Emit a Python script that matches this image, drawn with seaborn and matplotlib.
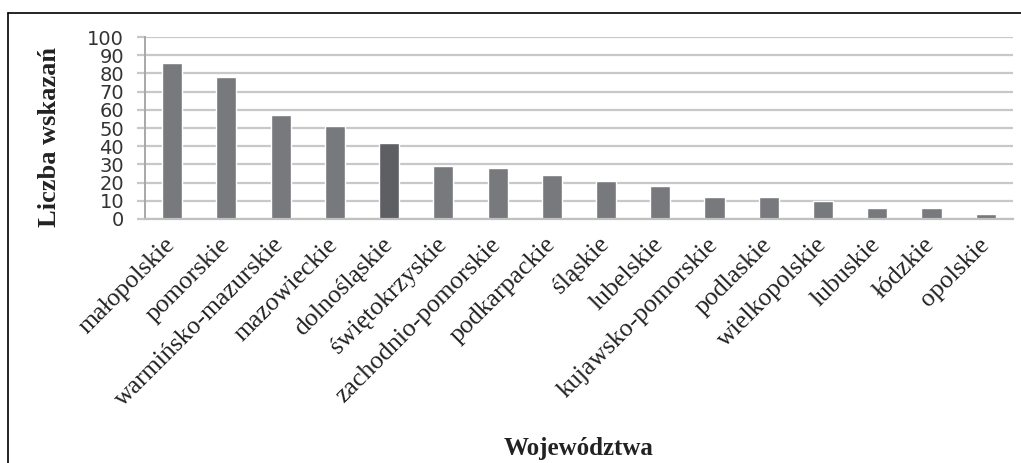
import numpy as np
import pandas as pd
import matplotlib
matplotlib.use('Agg')
import matplotlib.pyplot as plt
import seaborn as sns
from matplotlib.lines import Line2D

# --- data ---
regions = ['małopolskie', 'pomorskie', 'warmińsko-mazurskie', 'mazowieckie',
           'dolnośląskie', 'świętokrzyskie', 'zachodnio-pomorskie', 'podkarpackie',
           'śląskie', 'lubelskie', 'kujawsko-pomorskie', 'podlaskie',
           'wielkopolskie', 'lubuskie', 'łódzkie', 'opolskie']
counts = [86, 78, 57, 51, 42, 29, 28, 24, 21, 18, 12, 12, 10, 6, 6, 3]
y_ticks = list(range(0, 101, 10))

bar_color = '#78797d'
dark_color = '#5e5f63'
colors = [dark_color if r == 'dolnośląskie' else bar_color for r in regions]

df = pd.DataFrame({'region': regions, 'count': counts})

sns.set_style('white')
plt.rcParams['font.family'] = ['DejaVu Sans']

fig = plt.figure(figsize=(10.21, 4.63), dpi=100)
ax = fig.add_axes([0.142, 0.527, 0.850, 0.393])

sns.barplot(data=df, x='region', y='count', hue='region', palette=colors,
            legend=False, width=0.37, saturation=1, ax=ax)

ax.set_ylim(0, 100)
ax.set_xlim(-0.5, len(regions) - 0.5)
ax.set_yticks(y_ticks)
ax.set_yticklabels([str(t) for t in y_ticks], fontsize=14, color='#333333',
                   family='DejaVu Sans')
ax.yaxis.grid(True, color='#c8c8c8', linewidth=1.6)
ax.set_axisbelow(True)
ax.tick_params(axis='y', length=6, width=1.6, color='#c8c8c8', pad=9, left=True)
ax.tick_params(axis='x', length=0, pad=16)

for s in ['top', 'right']:
    ax.spines[s].set_visible(False)
ax.spines['left'].set_color('#a8a8a8')
ax.spines['left'].set_linewidth(1.4)
ax.spines['bottom'].set_color('#c0c0c0')
ax.spines['bottom'].set_linewidth(1.6)

ax.set_xticks(range(len(regions)))
ax.set_xticklabels(regions, rotation=45, ha='right', va='center',
                   rotation_mode='anchor', fontsize=18.5,
                   family='Liberation Serif', color='#222222')

ax.set_xlabel('Województwa', fontsize=18, fontweight='bold',
              family='Liberation Serif', color='#222222')
ax.xaxis.set_label_coords(0.5, -0.0, transform=fig.transFigure)
ax.xaxis.label.set_position((0.5, 0))
ax.set_ylabel('Liczba wskazań', fontsize=19, fontweight='bold',
              family='Liberation Serif', color='#222222')

# place axis titles in figure coords
ax.xaxis.set_label_coords((145 + 1013) / 2 / 1021, 1 - 448 / 463, transform=fig.transFigure)
ax.xaxis.label.set_va('center')
ax.yaxis.set_label_coords(50 / 1021, 1 - 137 / 463, transform=fig.transFigure)
ax.yaxis.label.set_va('center')

# outer frame (left and top edges visible)
fig.add_artist(Line2D([8 / 1021, 8 / 1021], [0, 1 - 13 / 463], color='black',
                      linewidth=1.2, transform=fig.transFigure))
fig.add_artist(Line2D([8 / 1021, 1], [1 - 13 / 463, 1 - 13 / 463], color='black',
                      linewidth=1.2, transform=fig.transFigure))

fig.savefig('out.png', dpi=100)
